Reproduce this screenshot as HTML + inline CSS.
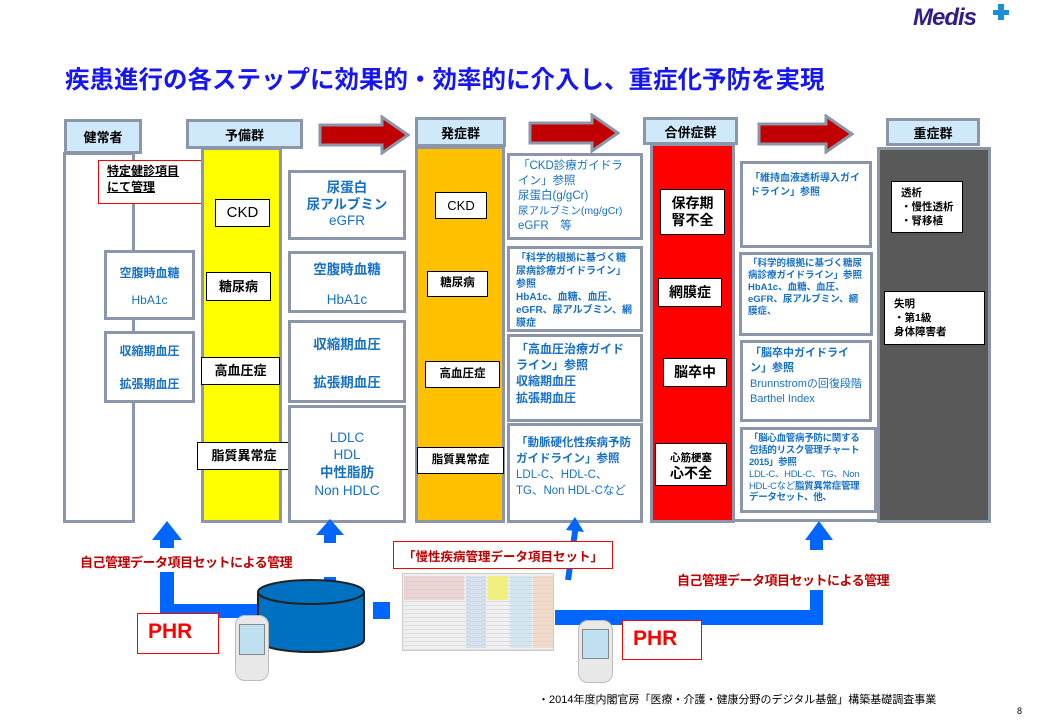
<!DOCTYPE html>
<html><head><meta charset="utf-8"><style>
*{margin:0;padding:0;box-sizing:border-box}
body{width:1040px;height:720px;background:#fff;position:relative;overflow:hidden;font-family:"Liberation Sans","Noto Sans CJK JP",sans-serif;font-weight:bold}
.a{position:absolute}
.hd{position:absolute;background:#cfe9fb;border:3px solid #8c96aa;text-align:center;font-size:13px;color:#000;display:flex;align-items:center;justify-content:center}
.col{position:absolute;border:3px solid #8c96aa}
.wb{position:absolute;background:#fff;border:3px solid #8c96aa}
.bk{position:absolute;background:#fff;border:1.5px solid #000;font-size:13px;display:flex;align-items:center;justify-content:center;text-align:center;line-height:1.2}
.bl{color:#1670c8}
.g{position:absolute;background:#fff;border:3px solid #8c96aa;color:#1670c8;font-size:10.5px;line-height:1.35;padding:4px 6px;font-weight:bold;overflow:hidden}
.c{display:flex;flex-direction:column;align-items:center;justify-content:center;text-align:center}
.ar{position:absolute}
.bar{position:absolute;background:#0066ff}
</style></head><body>
<div class="a" style="left:65px;top:61px;font-size:24.5px;color:#1616f0;letter-spacing:0px;white-space:nowrap">疾患進行の各ステップに効果的・効率的に介入し、重症化予防を実現</div>
<div class="a" style="left:913px;top:4px;font-size:24px;color:#2c1f8c;font-style:italic;font-family:'Liberation Sans',sans-serif;letter-spacing:-1px">Medis</div>
<div class="a" style="left:993px;top:10px;width:16px;height:5px;background:#1a8fd8"></div>
<div class="a" style="left:998px;top:4px;width:6px;height:16px;background:#1a8fd8"></div>

<div class="hd" style="left:64px;top:119px;width:78px;height:35px">健常者</div>
<div class="hd" style="left:186px;top:119px;width:117px;height:30px">予備群</div>
<div class="hd" style="left:415px;top:117px;width:91px;height:30px">発症群</div>
<div class="hd" style="left:643px;top:117px;width:95px;height:28px">合併症群</div>
<div class="hd" style="left:886px;top:118px;width:94px;height:28px">重症群</div>
<svg class="ar" style="left:318px;top:115px" width="92" height="40"><polygon points="2,10 64,10 64,2 90,20 64,38 64,30 2,30" fill="#c00000" stroke="#8c96aa" stroke-width="3"/></svg>
<svg class="ar" style="left:528px;top:113px" width="92" height="40"><polygon points="2,10 64,10 64,2 90,20 64,38 64,30 2,30" fill="#c00000" stroke="#8c96aa" stroke-width="3"/></svg>
<svg class="ar" style="left:757px;top:114px" width="97" height="40"><polygon points="2,10 69,10 69,2 95,20 69,38 69,30 2,30" fill="#c00000" stroke="#8c96aa" stroke-width="3"/></svg>

<div class="col" style="left:63px;top:152px;width:72px;height:371px;background:#fff"></div>
<div class="a" style="left:98px;top:160px;width:108px;height:44px;background:#fff;border:1.5px solid #f00;font-size:12px;line-height:1.3;padding:3px 8px;text-decoration:underline">特定健診項目<br>にて管理</div>
<div class="wb c bl" style="left:104px;top:250px;width:91px;height:70px;font-size:12px;gap:12px"><div>空腹時血糖</div><div style="font-weight:normal">HbA1c</div></div>
<div class="wb c bl" style="left:104px;top:331px;width:91px;height:72px;font-size:12px;gap:16px"><div>収縮期血圧</div><div>拡張期血圧</div></div>

<div class="col" style="left:201px;top:147px;width:81px;height:376px;background:#ffff00"></div>
<div class="bk" style="left:215px;top:199px;width:55px;height:28px;font-size:15px;font-weight:normal">CKD</div>
<div class="bk" style="left:206px;top:272px;width:65px;height:29px">糖尿病</div>
<div class="bk" style="left:201px;top:357px;width:79px;height:28px">高血圧症</div>
<div class="bk" style="left:197px;top:442px;width:94px;height:28px">脂質異常症</div>

<div class="wb c bl" style="left:288px;top:170px;width:118px;height:70px;font-size:13.5px;line-height:1.25"><div>尿蛋白</div><div>尿アルブミン</div><div style="font-weight:normal">eGFR</div></div>
<div class="wb c bl" style="left:288px;top:251px;width:118px;height:62px;font-size:13.5px;gap:14px"><div>空腹時血糖</div><div style="font-weight:normal">HbA1c</div></div>
<div class="wb c bl" style="left:288px;top:320px;width:118px;height:83px;font-size:13.5px;gap:18px"><div>収縮期血圧</div><div>拡張期血圧</div></div>
<div class="wb c bl" style="left:288px;top:405px;width:118px;height:118px;font-size:13.5px;line-height:1.3;font-weight:normal"><div>LDLC</div><div>HDL</div><div style="font-weight:bold">中性脂肪</div><div>Non HDLC</div></div>

<div class="col" style="left:415px;top:146px;width:90px;height:377px;background:#ffc000"></div>
<div class="bk" style="left:435px;top:192px;width:52px;height:27px;font-size:13px;font-weight:normal">CKD</div>
<div class="bk" style="left:427px;top:271px;width:61px;height:26px;font-size:11.5px">糖尿病</div>
<div class="bk" style="left:425px;top:361px;width:75px;height:27px;font-size:11.5px">高血圧症</div>
<div class="bk" style="left:417px;top:447px;width:87px;height:27px;font-size:11.5px">脂質異常症</div>

<div class="g" style="left:507px;top:153px;width:136px;height:87px;font-size:11.5px;line-height:1.3;font-weight:normal;padding:3px 8px">「CKD診療ガイドライン」参照<br>尿蛋白(g/gCr)<br><span style="font-size:10.5px">尿アルブミン(mg/gCr)</span><br>eGFR　等</div>
<div class="g" style="left:507px;top:246px;width:136px;height:86px;font-size:10px;line-height:1.3;padding:3px 6px">「科学的根拠に基づく糖尿病診療ガイドライン」参照<br>HbA1c、血糖、血圧、eGFR、尿アルブミン、網膜症</div>
<div class="g" style="left:507px;top:334px;width:136px;height:88px;font-size:12px;line-height:1.35;padding:4px 6px">「高血圧治療ガイドライン」参照<br>収縮期血圧<br>拡張期血圧</div>
<div class="g" style="left:507px;top:423px;width:136px;height:100px;font-size:11.5px;line-height:1.4;padding:9px 6px">「動脈硬化性疾病予防ガイドライン」参照<br><span style="font-weight:normal">LDL-C、HDL-C、TG、Non HDL-Cなど</span></div>

<div class="col" style="left:650px;top:143px;width:85px;height:380px;background:#ff0000"></div>
<div class="bk" style="left:660px;top:189px;width:65px;height:46px;font-size:14px">保存期<br>腎不全</div>
<div class="bk" style="left:658px;top:278px;width:64px;height:29px;font-size:14px">網膜症</div>
<div class="bk" style="left:663px;top:358px;width:64px;height:29px;font-size:14px">脳卒中</div>
<div class="bk" style="left:655px;top:443px;width:72px;height:43px;font-size:14px"><div><span style="font-size:10.5px">心筋梗塞</span><br>心不全</div></div>

<div class="g" style="left:740px;top:161px;width:132px;height:87px;font-size:10px;padding:8px 7px">「維持血液透析導入ガイドライン」参照</div>
<div class="g" style="left:739px;top:252px;width:134px;height:84px;font-size:9.5px;line-height:1.25;padding:3px 6px">「科学的根拠に基づく糖尿病診療ガイドライン」参照<br>HbA1c、血糖、血圧、eGFR、尿アルブミン、網膜症、</div>
<div class="g" style="left:740px;top:340px;width:132px;height:82px;font-size:11px;line-height:1.4;padding:3px 7px">「脳卒中ガイドライン」参照<br><span style="font-weight:normal">Brunnstromの回復段階Barthel Index</span></div>
<div class="g" style="left:740px;top:427px;width:137px;height:86px;font-size:9.5px;line-height:1.25;padding:3px 6px;letter-spacing:-0.3px">「脳心血管病予防に関する包括的リスク管理チャート2015」参照<br><span style="font-weight:normal">LDL-C、HDL-C、TG、Non HDL-Cなど</span>脂質異常症管理データセット、他、</div>

<div class="col" style="left:877px;top:147px;width:114px;height:376px;background:#595959"></div>
<div class="bk" style="left:891px;top:181px;width:72px;height:52px;font-size:10.5px;text-align:left;justify-content:flex-start;padding-left:9px;line-height:1.35">透析<br>・慢性透析<br>・腎移植</div>
<div class="bk" style="left:884px;top:291px;width:101px;height:54px;font-size:10.5px;text-align:left;justify-content:flex-start;padding-left:9px;line-height:1.35">失明<br>・第1級<br>身体障害者</div>
<div class="a" style="left:735px;top:519px;width:142px;height:3px;background:#8c96aa"></div>

<svg class="ar" style="left:0;top:0" width="1040" height="720">
<polygon points="152,540 167,521 182,540" fill="#0066ff"/>
<polygon points="316,535 330,519 344,535" fill="#0066ff"/>
<polygon points="805,540 819,521 833,540" fill="#0066ff"/>
<polygon points="566,530 575,517 584,532" fill="#0066ff"/>
<line x1="568" y1="580" x2="576" y2="525" stroke="#0066ff" stroke-width="6"/>
</svg>
<div class="bar" style="left:160px;top:538px;width:14px;height:10px"></div>
<div class="bar" style="left:160px;top:572px;width:14px;height:46px"></div>
<div class="bar" style="left:160px;top:604px;width:100px;height:14px"></div>
<div class="bar" style="left:324px;top:533px;width:12px;height:10px"></div>
<div class="bar" style="left:324px;top:577px;width:12px;height:12px"></div>
<div class="bar" style="left:373px;top:602px;width:17px;height:17px"></div>
<div class="bar" style="left:555px;top:610px;width:268px;height:15px"></div>
<div class="bar" style="left:810px;top:538px;width:13px;height:12px"></div>
<div class="bar" style="left:810px;top:590px;width:13px;height:35px"></div>

<div class="a" style="left:80px;top:552px;font-size:13px;color:#c00000;letter-spacing:-0.5px;white-space:nowrap">自己管理データ項目セットによる管理</div>
<div class="a" style="left:677px;top:570px;font-size:13px;color:#c00000;letter-spacing:-0.5px;white-space:nowrap">自己管理データ項目セットによる管理</div>
<div class="a" style="left:393px;top:541px;width:220px;height:28px;border:1.5px solid #f00;background:#fff;font-size:12.5px;color:#c00000;display:flex;align-items:center;justify-content:center">「慢性疾病管理データ項目セット」</div>

<svg class="ar" style="left:256px;top:578px" width="112" height="76"><path d="M2,14 L2,62 A53,12 0 0 0 108,62 L108,14" fill="#0070c0" stroke="#222" stroke-width="2"/><ellipse cx="55" cy="14" rx="53" ry="12" fill="#0070c0" stroke="#222" stroke-width="2"/></svg>

<div class="a" style="left:402px;top:573px;width:152px;height:78px;background:#f0f0f0;border:1px solid #ccc;background-image:repeating-linear-gradient(0deg,#ddd 0 1px,transparent 1px 4px)"></div>
<div class="a" style="left:404px;top:576px;width:60px;height:24px;background:#e8c8c8;opacity:.7"></div>
<div class="a" style="left:466px;top:576px;width:20px;height:72px;background:#c8d8e8;opacity:.7"></div>
<div class="a" style="left:488px;top:576px;width:20px;height:24px;background:#f0f080"></div>
<div class="a" style="left:510px;top:576px;width:22px;height:72px;background:#c8e0f0;opacity:.7"></div>
<div class="a" style="left:533px;top:576px;width:20px;height:72px;background:#f0d0b8;opacity:.7"></div>

<div class="a" style="left:137px;top:613px;width:82px;height:41px;border:1.5px solid #f00;background:#fff;color:#f00;font-size:21px;padding:6px 0 0 10px">PHR</div>
<div class="a" style="left:622px;top:620px;width:80px;height:40px;border:1.5px solid #f00;background:#fff;color:#f00;font-size:21px;padding:6px 0 0 10px">PHR</div>
<div class="a" style="left:235px;top:615px;width:34px;height:66px;border-radius:10px;background:#e8e8e8;border:1px solid #bbb"></div>
<div class="a" style="left:239px;top:624px;width:26px;height:31px;background:#bfe0f0;border:1px solid #888"></div>
<div class="a" style="left:578px;top:620px;width:35px;height:63px;border-radius:10px;background:#e8e8e8;border:1px solid #bbb"></div>
<div class="a" style="left:582px;top:629px;width:27px;height:30px;background:#bfe0f0;border:1px solid #888"></div>

<div class="a" style="left:538px;top:691px;font-size:11px;font-weight:normal;white-space:nowrap">・2014年度内閣官房「医療・介護・健康分野のデジタル基盤」構築基礎調査事業</div>
<div class="a" style="left:1017px;top:706px;font-size:9px;font-weight:normal">8</div>
</body></html>
